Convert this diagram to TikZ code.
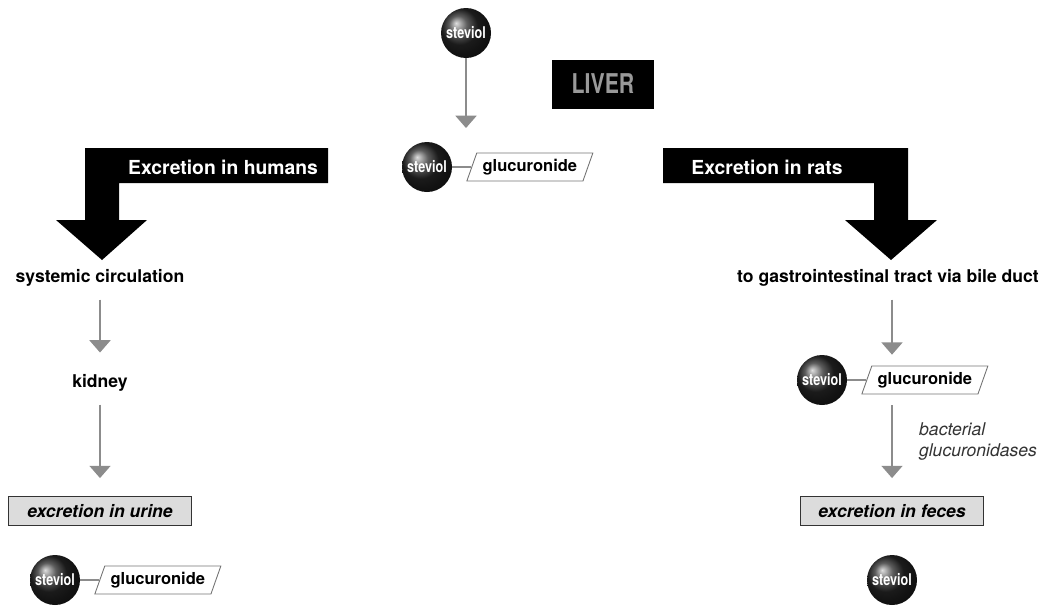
\documentclass[tikz,border=0pt]{standalone}
\usepackage{fontspec}
\setmainfont{TeX Gyre Heros}
\newfontfamily\narrowfont[FakeStretch=0.78]{TeX Gyre Heros}
\usetikzlibrary{arrows.meta,shapes.geometric,positioning}

\definecolor{flowgray}{HTML}{8C8C8C}
\definecolor{boxgray}{HTML}{DCDCDC}

\tikzset{
  mol/.style={circle, minimum size=1cm, inner sep=0pt, shading=ball,
    ball color=black!85, text=white, font=\narrowfont\bfseries\fontsize{9.2}{10}\selectfont},
  glu/.style={trapezium, trapezium left angle=63, trapezium right angle=117,
    trapezium stretches body, draw=black!55, line width=0.5pt, minimum width=2.52cm,
    minimum height=0.56cm, inner sep=1pt, font=\bfseries\fontsize{9.4}{11}\selectfont},
  bond/.style={draw=flowgray, line width=0.9pt},
  flow/.style={draw=flowgray, line width=0.9pt,
    -{Triangle[width=12pt,length=7pt]}, flowgray},
  site/.style={font=\bfseries\fontsize{10}{12}\selectfont},
  outcome/.style={draw=black!80, fill=boxgray, line width=1pt, minimum width=3.66cm,
    minimum height=0.58cm, font=\bfseries\itshape\fontsize{10}{12}\selectfont},
  banner/.style={text=white, font=\bfseries\fontsize{11}{13}\selectfont}
}

\begin{document}
\begin{tikzpicture}[x=0.02cm, y=-0.02cm]
  \useasboundingbox (0,0) rectangle (1053,606);

  % liver
  \node[fill=black, text=black!40, minimum width=2.04cm, minimum height=0.98cm,
    font=\narrowfont\bfseries\fontsize{15.5}{17}\selectfont] (liver) at (603,84) {LIVER};
  \node[mol] (s1) at (466,33) {steviol};
  \node[mol] (s2) at (427,167) {steviol};
  \node[glu, right=0.38cm of s2] (g2) {glucuronide};
  \draw[bond] (s2) -- (g2);
  \coordinate (s2top) at (466,128);
  \draw[flow] (s1) -- (s2top);

  % big arrows
  \fill (85,148) -- (328,148) -- (328,183) -- (119,183) -- (119,220) -- (147,220)
    -- (102,260) -- (56,220) -- (85,220) -- cycle;
  \node[banner] (humans) at (223,167) {Excretion in humans};
  \fill (663,148) -- (908,148) -- (908,220) -- (937,220) -- (891,260) -- (845,220)
    -- (874,220) -- (874,183) -- (663,183) -- cycle;
  \node[banner] (rats) at (767,167) {Excretion in rats};

  % humans
  \node[site] (sys) at (100,278) {systemic circulation};
  \node[site] (kid) at (100,383) {kidney};
  \node[outcome] (urine) at (100,511) {excretion in urine};
  \node[mol] (s3) at (55,580) {steviol};
  \node[glu, right=0.38cm of s3] (g3) {glucuronide};
  \draw[bond] (s3) -- (g3);
  \draw[flow, shorten <=4pt, shorten >=9pt] (sys) -- (kid);
  \draw[flow, shorten <=4pt, shorten >=10pt] (kid) -- (urine);

  % rats
  \node[site] (gi) at (888,278) {to gastrointestinal tract via bile duct};
  \node[mol] (s4) at (822,380) {steviol};
  \node[glu, right=0.38cm of s4] (g4) {glucuronide};
  \draw[bond] (s4) -- (g4);
  \node[outcome] (feces) at (892,511) {excretion in feces};
  \node[mol] (s5) at (892,580) {steviol};
  \draw[flow, shorten <=4pt] (gi.south -| feces.north) -- (s4.north -| feces.north);
  \draw[flow, shorten >=10pt] (s4.south -| feces.north) -- (feces.north);
  \node[anchor=north west, align=left, text=black!80,
    font=\itshape\fontsize{10}{12}\selectfont] (enz) at (913,416) {bacterial\\glucuronidases};
\end{tikzpicture}
\end{document}
